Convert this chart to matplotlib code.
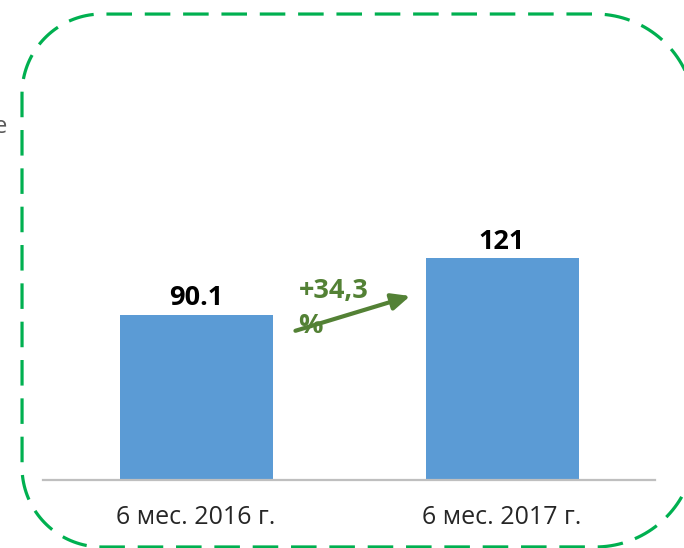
import numpy as np
import matplotlib.pyplot as plt

plt.rcParams['font.family'] = ['Open Sans', 'DejaVu Sans']

# Данные: объем за первое полугодие
periods = ['6 мес. 2016 г.', '6 мес. 2017 г.']
values = [90.1, 121]
value_labels = ['90.1', '121']
growth_label = '+34,3\n%'

bar_color = '#5B9BD5'
green = '#538135'


def rounded_frame(x0, y0, x1, y1, r_left, r_right):
    """Контур прямоугольника с разными радиусами левых и правых углов."""
    def arc(cx, cy, r, a0, a1):
        t = np.radians(np.linspace(a0, a1, 40))
        return cx + r * np.cos(t), cy + r * np.sin(t)

    parts = [
        arc(x1 - r_right, y1 - r_right, r_right, 0, 90),
        arc(x0 + r_left, y1 - r_left, r_left, 90, 180),
        arc(x0 + r_left, y0 + r_left, r_left, 180, 270),
        arc(x1 - r_right, y0 + r_right, r_right, 270, 360),
    ]
    xs = np.concatenate([p[0] for p in parts] + [parts[0][0][:1]])
    ys = np.concatenate([p[1] for p in parts] + [parts[0][1][:1]])
    return xs, ys


fig = plt.figure(figsize=(6.84, 5.48), dpi=100)
ax = fig.add_axes([43 / 684, 68 / 548, 612 / 684, 420 / 548])

x = list(range(len(periods)))
ax.bar(x, values, width=0.5, color=bar_color, zorder=2)
ax.set_xlim(-0.5, 1.5)
ax.set_ylim(0, 229.4)

for xi, v, lab in zip(x, values, value_labels):
    ax.annotate(lab, (xi, v), xytext=(0, 7), textcoords='offset points',
                ha='center', va='baseline', fontsize=19.5, fontweight='bold',
                color='black')

# Стрелка роста между столбцами
ax.annotate('', xy=(0.70, 100.5), xytext=(0.325, 81.5),
            arrowprops=dict(arrowstyle='-|>,head_length=1.1,head_width=0.5',
                            color=green, lw=3, shrinkA=0, shrinkB=0))
ax.text(0.335, 110.5, growth_label, ha='left', va='top', fontsize=19.5,
        fontweight='bold', color=green, linespacing=1.45)

ax.set_xticks(x)
ax.set_xticklabels(periods, fontsize=18, color='#262626')
ax.tick_params(axis='x', length=0, pad=18)
ax.set_yticks([])
for side in ['top', 'left', 'right']:
    ax.spines[side].set_visible(False)
ax.spines['bottom'].set_color('#BFBFBF')
ax.spines['bottom'].set_linewidth(1.6)

# Пунктирная рамка со скруглёнными углами
frame = fig.add_axes([0, 0, 1, 1], facecolor='none')
frame.set_xlim(0, 684)
frame.set_ylim(0, 548)
frame.axis('off')
fx, fy = rounded_frame(22, 1, 695, 534, 80, 100)
frame.plot(fx, fy, color='#00B050', lw=2.3, linestyle=(0, (8, 4)),
           clip_on=False, solid_capstyle='butt', dash_capstyle='butt')
frame.text(0, 548 - 127, 'е', ha='center', va='center', fontsize=17,
           color='#595959')

fig.savefig('out.png', dpi=100)
